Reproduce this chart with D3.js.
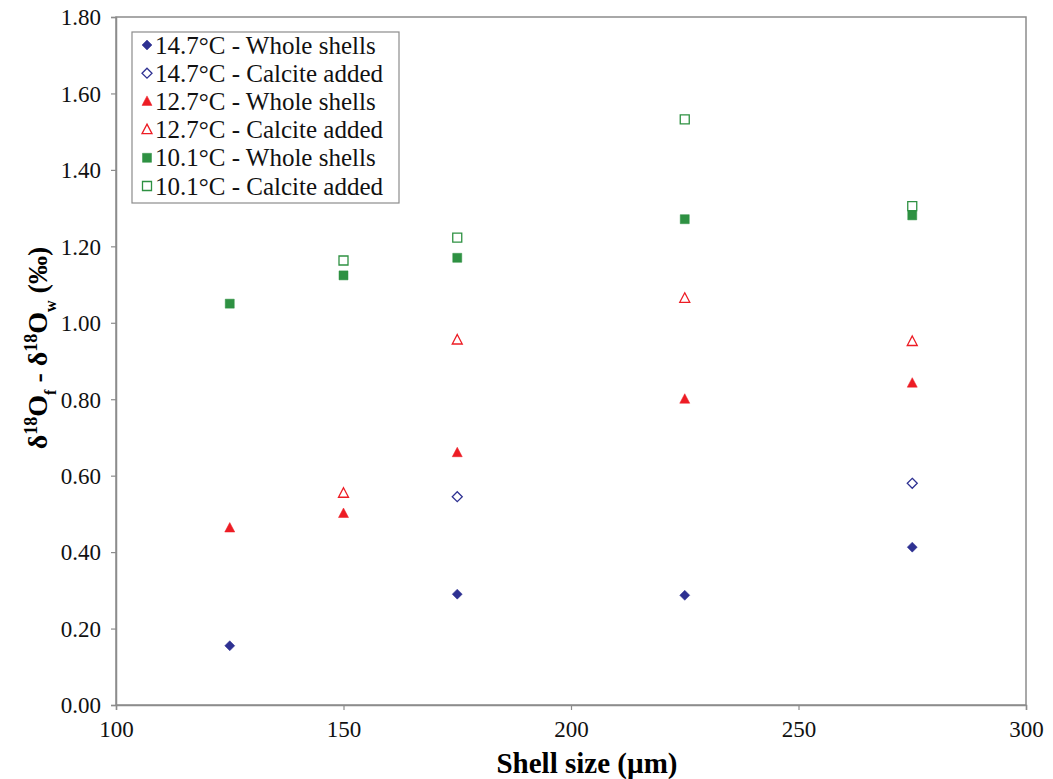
<!DOCTYPE html>
<html>
<head>
<meta charset="utf-8">
<script src="https://cdn.jsdelivr.net/npm/d3@7"></script>
<style>
  body { margin: 0; background: #fff; }
  svg text { font-family: "Liberation Serif", "Times New Roman", serif; }
</style>
</head>
<body>
<div id="chart"></div>
<script>
// data
var sizes = [125, 150, 175, 225, 275];
var warmWhole = [0.155, null, 0.29, 0.287, 0.413];
var warmCalcite = [null, null, 0.545, null, 0.58];
var midWhole = [0.463, 0.501, 0.66, 0.80, 0.842];
var midCalcite = [null, 0.554, 0.955, 1.064, 0.951];
var coldWhole = [1.05, 1.124, 1.17, 1.271, 1.281];
var coldCalcite = [null, 1.163, 1.223, 1.532, 1.305];
var seriesNames = [
  "14.7°C - Whole shells",
  "14.7°C - Calcite added",
  "12.7°C - Whole shells",
  "12.7°C - Calcite added",
  "10.1°C - Whole shells",
  "10.1°C - Calcite added"
];
var yTicks = [0, 0.2, 0.4, 0.6, 0.8, 1.0, 1.2, 1.4, 1.6, 1.8];
var xTicks = [100, 150, 200, 250, 300];

var w = 1053;
var h = 779;
var mLeft = 116, mRight = 1026, mTop = 17, mBottom = 705;
var serif = "Liberation Serif, Times New Roman, serif";

var series = [
  { name: seriesNames[0], values: warmWhole, color: "#2e3192", shape: "diamond", filled: true },
  { name: seriesNames[1], values: warmCalcite, color: "#2e3192", shape: "diamond", filled: false },
  { name: seriesNames[2], values: midWhole, color: "#ed1c24", shape: "triangle", filled: true },
  { name: seriesNames[3], values: midCalcite, color: "#ed1c24", shape: "triangle", filled: false },
  { name: seriesNames[4], values: coldWhole, color: "#2e9142", shape: "square", filled: true },
  { name: seriesNames[5], values: coldCalcite, color: "#2e9142", shape: "square", filled: false }
];

var svg = d3.select("#chart").append("svg")
  .attr("width", w)
  .attr("height", h)
  .attr("font-family", serif);

var x = d3.scaleLinear().domain([100, 300]).range([mLeft, mRight]);
var y = d3.scaleLinear().domain([0, 1.8]).range([mBottom, mTop]);

// plot frame
svg.append("rect")
  .attr("x", mLeft).attr("y", mTop)
  .attr("width", mRight - mLeft).attr("height", mBottom - mTop)
  .attr("fill", "none")
  .attr("stroke", "#8c8c8c")
  .attr("stroke-width", 1.5);

// axes
var xAxis = svg.append("g")
  .attr("transform", "translate(0," + mBottom + ")")
  .call(d3.axisBottom(x).tickValues(xTicks).tickSize(5).tickPadding(7).tickFormat(d3.format("d")));
var yAxis = svg.append("g")
  .attr("transform", "translate(" + mLeft + ",0)")
  .call(d3.axisLeft(y).tickValues(yTicks).tickSize(5).tickPadding(10).tickFormat(d3.format(".2f")));

[xAxis, yAxis].forEach(function (g) {
  g.attr("font-family", serif).attr("font-size", 23);
  g.select(".domain").attr("stroke", "#8c8c8c").attr("stroke-width", 1.5);
  g.selectAll(".tick line").attr("stroke", "#8c8c8c").attr("stroke-width", 1.2);
  g.selectAll(".tick text")
    .attr("fill", "#111")
    .attr("font-family", serif)
    .attr("font-size", 23);
});
xAxis.selectAll(".tick text").attr("dy", "0.85em");
yAxis.selectAll(".tick text").attr("dy", "0.34em");

// marker shapes
function markerPath(shape) {
  if (shape === "diamond") return "M0,-5L5,0L0,5L-5,0Z";
  if (shape === "triangle") return "M0,-5.5L5,4L-5,4Z";
  return "M-4.5,-4.5H4.5V4.5H-4.5Z";
}

function drawMarker(g, s, cx, cy) {
  g.append("path")
    .attr("d", markerPath(s.shape))
    .attr("transform", "translate(" + cx + "," + cy + ")")
    .attr("fill", s.filled ? s.color : "#fff")
    .attr("stroke", s.color)
    .attr("stroke-width", s.filled ? 0.5 : 1.3);
}

// points
var pts = svg.append("g");
series.forEach(function (s) {
  s.values.forEach(function (v, i) {
    if (v == null) return;
    drawMarker(pts, s, x(sizes[i]), y(v));
  });
});

// legend
var legend = svg.append("g").attr("transform", "translate(132,32)");
legend.append("rect")
  .attr("width", 267).attr("height", 171)
  .attr("fill", "#fff")
  .attr("stroke", "#8c8c8c")
  .attr("stroke-width", 1.2);
series.forEach(function (s, i) {
  var row = legend.append("g").attr("transform", "translate(0," + (13 + i * 28.2) + ")");
  drawMarker(row, s, 15, 0);
  row.append("text")
    .attr("x", 23)
    .attr("dy", "0.34em")
    .attr("fill", "#111")
    .attr("font-size", 25)
    .text(s.name);
});

// axis titles
svg.append("text")
  .attr("x", 587)
  .attr("y", 773)
  .attr("text-anchor", "middle")
  .attr("font-size", 29)
  .attr("font-weight", "bold")
  .text("Shell size (µm)");

var yTitle = svg.append("text")
  .attr("transform", "translate(47,348) rotate(-90)")
  .attr("text-anchor", "middle")
  .attr("font-size", 28)
  .attr("font-weight", "bold");
yTitle.append("tspan").text("δ");
yTitle.append("tspan").attr("baseline-shift", "super").attr("font-size", 18).text("18");
yTitle.append("tspan").text("O");
yTitle.append("tspan").attr("baseline-shift", "sub").attr("font-size", 16).text("f");
yTitle.append("tspan").text(" - δ");
yTitle.append("tspan").attr("baseline-shift", "super").attr("font-size", 18).text("18");
yTitle.append("tspan").text("O");
yTitle.append("tspan").attr("baseline-shift", "sub").attr("font-size", 16).text("w");
yTitle.append("tspan").text(" (‰)");
</script>
</body>
</html>
